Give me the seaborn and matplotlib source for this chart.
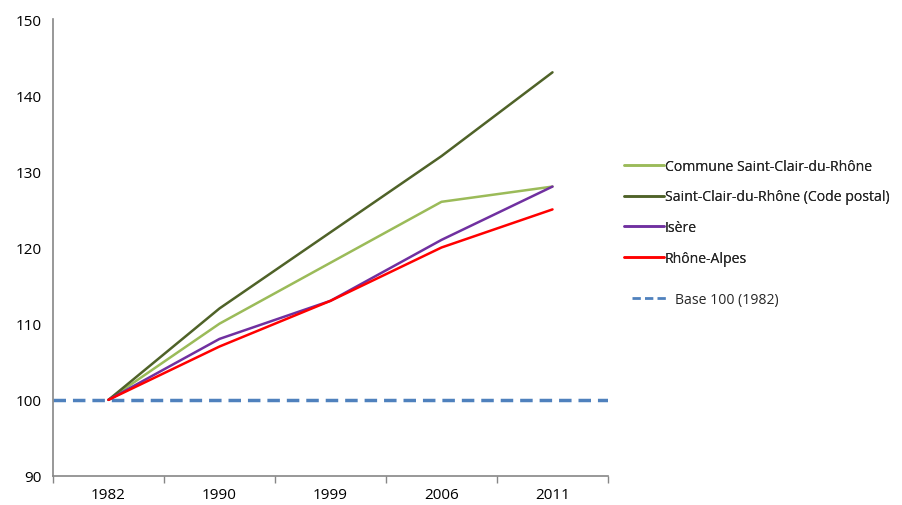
import matplotlib
matplotlib.use("Agg")
import matplotlib.pyplot as plt
from matplotlib.lines import Line2D
import numpy as np
import pandas as pd
import seaborn as sns

years = ["1982", "1990", "1999", "2006", "2011"]
commune = [100, 110, 118, 126, 128]
code_postal = [100, 112, 122, 132, 143]
isere = [100, 108, 113, 121, 128]
rhone_alpes = [100, 107, 113, 120, 125]
base_value = 100

series_names = [
    "Commune Saint-Clair-du-Rhône",
    "Saint-Clair-du-Rhône (Code postal)",
    "Isère",
    "Rhône-Alpes",
]
series_values = [commune, code_postal, isere, rhone_alpes]
colors = ["#9BBB59", "#4F6228", "#7030A0", "#FF0000"]
base_color = "#4F81BD"

sns.set_theme(style="white")
plt.rcParams["font.family"] = ["Open Sans", "DejaVu Sans"]

rows = []
for name, vals in zip(series_names, series_values):
    for i, (yr, v) in enumerate(zip(years, vals)):
        rows.append({"pos": i, "year": yr, "value": v, "serie": name})
df = pd.DataFrame(rows)

fig = plt.figure(figsize=(9.03, 5.06), dpi=100)
ax = fig.add_axes([53 / 903, 29 / 506, 555 / 903, 457 / 506])

# horizontal reference line at base 100
ax.plot([-0.5, 4.5], [base_value, base_value], color=base_color, lw=2.5,
        dashes=(3.6, 2.0), zorder=1, solid_capstyle="butt")

sns.lineplot(data=df, x="pos", y="value", hue="serie", hue_order=series_names,
             palette=colors, linewidth=1.8, ax=ax, legend=False, zorder=2)

ax.set_xlim(-0.5, 4.5)
ax.set_ylim(90, 150)
ax.set_yticks(np.arange(90, 151, 10))
ax.set_xticks(range(len(years)))
ax.set_xticklabels(years)
ax.set_xticks(np.arange(-0.5, 4.6, 1), minor=True)
ax.set_xlabel("")
ax.set_ylabel("")

for side in ["top", "right"]:
    ax.spines[side].set_visible(False)
for side in ["left", "bottom"]:
    ax.spines[side].set_color("#868686")
    ax.spines[side].set_linewidth(1.2)

ax.tick_params(axis="y", which="major", direction="out", length=5, width=1,
               color="#868686", labelsize=11, labelcolor="#000000", pad=3)
ax.tick_params(axis="x", which="major", length=0, labelsize=11,
               labelcolor="#000000", pad=8)
ax.tick_params(axis="x", which="minor", direction="out", length=5, width=1,
               color="#868686", bottom=True)

handles = [Line2D([0], [0], color=c, lw=1.8) for c in colors]
leg1 = fig.legend(handles, series_names, loc="upper left",
                  bbox_to_anchor=(618 / 903, 1 - 154 / 506), frameon=False,
                  fontsize=10.1, handlelength=2.9, handletextpad=0.05,
                  labelspacing=1.13, borderaxespad=0)
fig.add_artist(leg1)
base_handle = [Line2D([0], [0], color=base_color, lw=2, dashes=(3, 1.5))]
fig.legend(base_handle, ["Base 100 (1982)"], loc="upper left",
           bbox_to_anchor=(626 / 903, 1 - 287 / 506), frameon=False,
           fontsize=10.1, handlelength=2.6, handletextpad=0.5, borderaxespad=0)

fig.savefig("out.png", dpi=100)
